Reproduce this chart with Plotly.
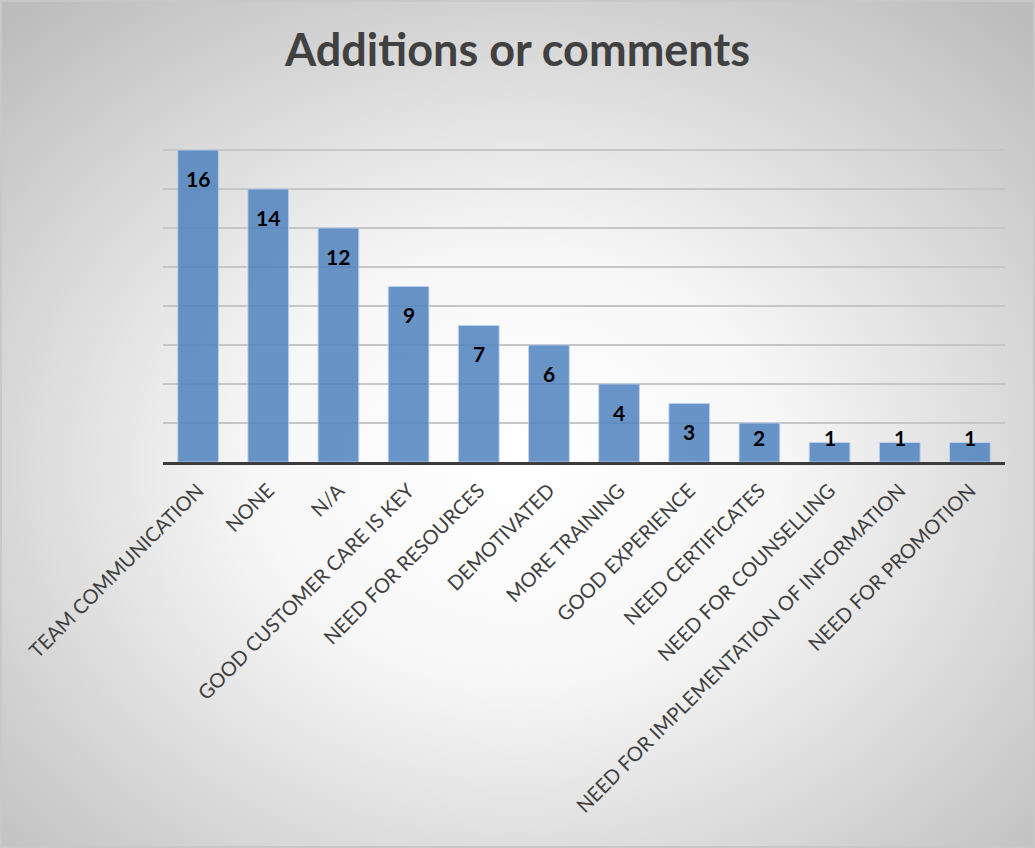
import base64
import plotly.graph_objects as go

# Survey responses: additions or comments
categories = [
    "TEAM COMMUNICATION", "NONE", "N/A", "GOOD CUSTOMER CARE IS KEY",
    "NEED FOR RESOURCES", "DEMOTIVATED", "MORE TRAINING", "GOOD EXPERIENCE",
    "NEED CERTIFICATES", "NEED FOR COUNSELLING",
    "NEED FOR IMPLEMENTATION OF INFORMATION", "NEED FOR PROMOTION",
]
counts = [16, 14, 12, 9, 7, 6, 4, 3, 2, 1, 1, 1]

W, H = 1035, 848
ML, MR, MT, MB = 163, 30, 111, 386
PW, PH = W - ML - MR, H - MT - MB
Y_MAX = 18

# radial background fill for the whole canvas
svg = (
    "<svg xmlns='http://www.w3.org/2000/svg' width='1035' height='848'>"
    "<defs><radialGradient id='g' cx='50%' cy='55%' r='72%'>"
    "<stop offset='0' stop-color='#ffffff'/>"
    "<stop offset='0.35' stop-color='#f7f7f7'/>"
    "<stop offset='1' stop-color='#bcbcbc'/>"
    "</radialGradient></defs>"
    "<rect width='1035' height='848' fill='url(#g)'/></svg>"
)
bg_src = "data:image/svg+xml;base64," + base64.b64encode(svg.encode()).decode()

fig = go.Figure()
fig.add_trace(go.Bar(
    x=categories, y=counts,
    marker=dict(color="rgba(79,129,189,0.85)",
                line=dict(color="rgba(190,210,235,0.9)", width=1)),
    hoverinfo="x+y",
))

# value labels near the top of each bar, kept above the baseline region
px_per_unit = PH / Y_MAX
for c, v in zip(categories, counts):
    y_lab = max(v - 28 / px_per_unit, 25 / px_per_unit)
    fig.add_annotation(x=c, y=y_lab, text=f"<b>{v}</b>", showarrow=False,
                       font=dict(family="Lato", size=21, color="#000000"),
                       xanchor="center", yanchor="middle")

fig.add_layout_image(dict(
    source=bg_src, xref="paper", yref="paper",
    x=-ML / PW, y=1 + MT / PH, sizex=W / PW, sizey=H / PH,
    xanchor="left", yanchor="top", sizing="stretch", layer="below",
))

# thin frame around the chart area
fig.add_shape(type="rect", xref="paper", yref="paper",
              x0=-ML / PW + 1 / PW, x1=1 + (MR - 1) / PW,
              y0=-MB / PH + 1 / PH, y1=1 + (MT - 1) / PH,
              line=dict(color="#c8c8c8", width=2), layer="above")

fig.update_layout(
    width=W, height=H,
    margin=dict(l=ML, r=MR, t=MT, b=MB),
    paper_bgcolor="#e8e8e8", plot_bgcolor="rgba(0,0,0,0)",
    title=dict(text="<b>Additions or comments</b>", x=0.5, xref="container",
               xanchor="center", y=1 - 50 / H, yanchor="middle",
               font=dict(family="Lato", size=45, color="#404040")),
    bargap=0.42,
    showlegend=False,
    font=dict(family="Lato", color="#404040"),
)
fig.update_xaxes(
    tickangle=-45, tickfont=dict(family="Lato", size=20, color="#404040"),
    showline=True, linecolor="#3c3c3c", linewidth=3, showgrid=False,
    ticks="", ticklabelstandoff=6, fixedrange=True,
)
fig.update_yaxes(
    range=[0, Y_MAX], dtick=2, showticklabels=False, showgrid=True,
    gridcolor="#c6c6c6", gridwidth=2, zeroline=False, ticks="",
    fixedrange=True,
)

fig.write_html("out.html")
